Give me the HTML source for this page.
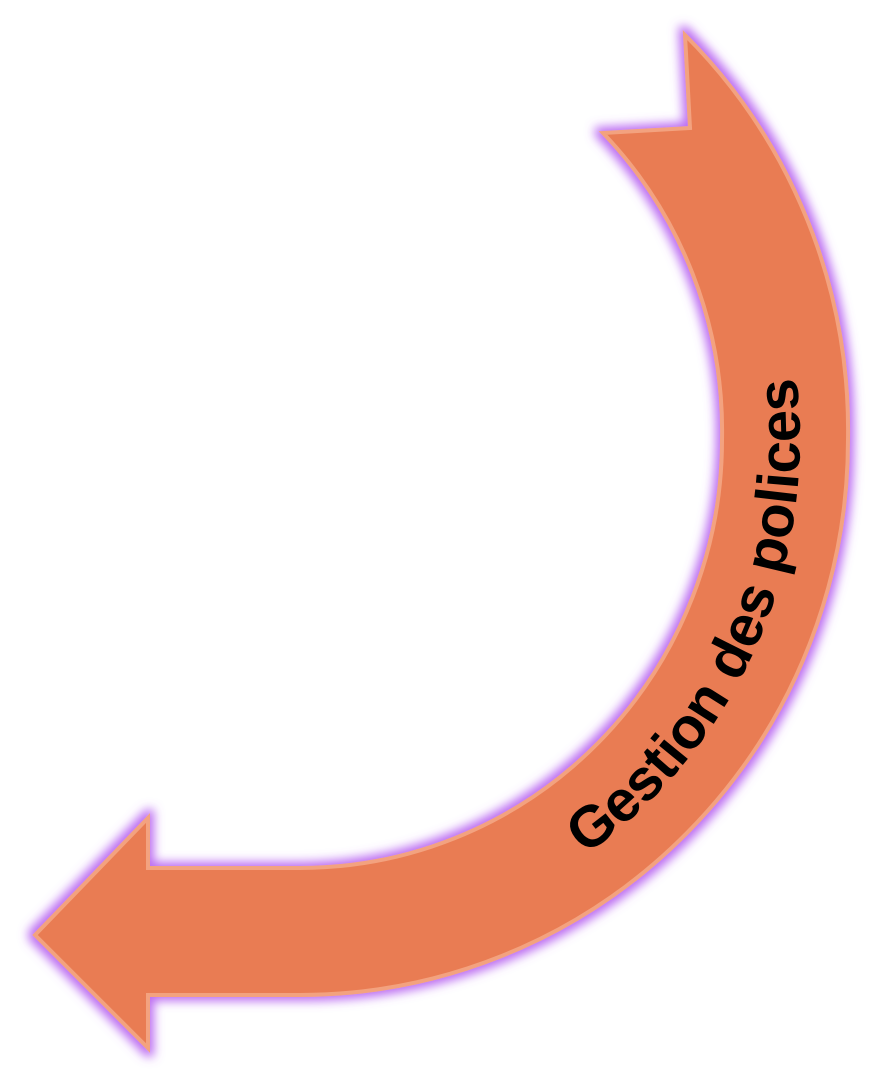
<!DOCTYPE html>
<html><head><meta charset="utf-8"><style>
html,body{margin:0;padding:0;background:#fff;width:882px;height:1082px;overflow:hidden}
</style></head><body>
<svg width="882" height="1082" viewBox="0 0 882 1082" xmlns="http://www.w3.org/2000/svg">
<defs>
<filter id="glow" x="-10%" y="-10%" width="120%" height="120%">
<feMorphology in="SourceAlpha" operator="dilate" radius="4" result="d"/>
<feGaussianBlur in="d" stdDeviation="5" result="b"/>
<feFlood flood-color="#b45cf0" flood-opacity="0.9"/>
<feComposite in2="b" operator="in" result="g"/>
<feMerge><feMergeNode in="g"/><feMergeNode in="SourceGraphic"/></feMerge>
</filter>
<path id="tp" d="M471,915 A500,506 0 0 0 770,267" fill="none"/>
</defs>
<path filter="url(#glow)" d="M685,35 A548,555 0 0 1 848,440 A548,555 0 0 1 300,995 L148,995 L148,1048 L35,935 L148,818 L148,868 L300,868 A422,428 0 0 0 722,440 A422,428 0 0 0 603,133 L690,128 Z" fill="#E97C52" stroke="#F3A27F" stroke-width="4" stroke-linejoin="miter"/>
<text font-family="Liberation Sans, sans-serif" font-weight="bold" font-size="58" fill="#000" text-anchor="middle"><textPath href="#tp" startOffset="51%">Gestion des polices</textPath></text>
</svg>
</body></html>
